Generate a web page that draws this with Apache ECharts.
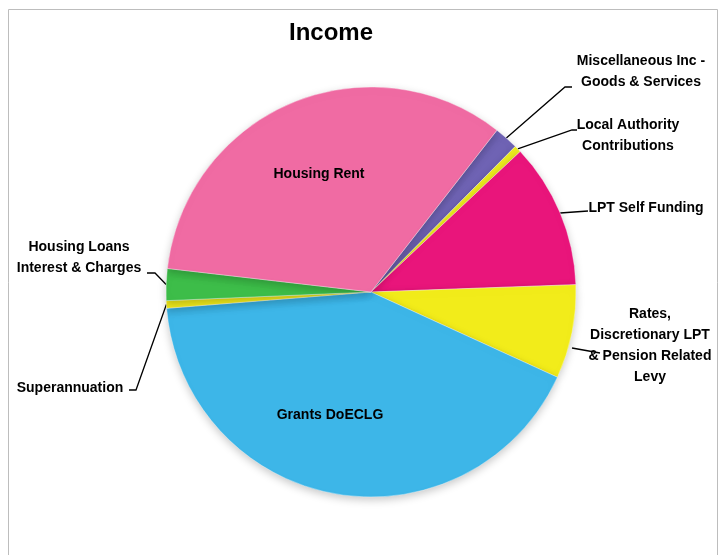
<!DOCTYPE html>
<html>
<head>
<meta charset="utf-8">
<script src="https://cdn.jsdelivr.net/npm/echarts@6/dist/echarts.min.js"></script>
<style>
html,body{margin:0;padding:0;background:#fff;}
#chart{width:724px;height:555px;}
</style>
</head>
<body>
<div id="chart"></div>
<script>
const categories = [
  'Miscellaneous Inc -\nGoods & Services',
  'Local Authority\nContributions',
  'LPT Self Funding',
  'Rates,\nDiscretionary LPT\n& Pension Related\nLevy',
  'Grants DoECLG',
  'Superannuation',
  'Housing Loans\nInterest & Charges',
  'Housing Rent'
];
const values = [1.9, 0.55, 11.45, 7.4, 41.9, 0.6, 2.5, 33.7];
const colors = ['#6f63b4', '#eceb1e', '#e9157b', '#f2ec1a', '#3db6e8', '#f0ea1c', '#3dbd49', '#f06ba3'];
const insideLabels = ['Grants DoECLG', 'Housing Rent'];

// label layout (positions of label text and leader-line points)
const labelPlace = [
  {x: 641, y: 72, start: null, bends: [[565, 87], [572, 87]]},
  {x: 628, y: 136, start: null, bends: [[572, 130], [577, 130]]},
  {x: 646, y: 208, start: null, bends: [[588, 211]]},
  {x: 650, y: 346, start: [572, 348], bends: [[600, 353]]},
  {x: 330, y: 415, start: null, bends: null},
  {x: 70, y: 388, start: null, bends: [[136, 390], [129, 390]]},
  {x: 79, y: 258, start: null, bends: [[155, 273], [147, 273]]},
  {x: 319, y: 174, start: null, bends: null}
];

const chart = echarts.init(document.getElementById('chart'));
const data = categories.map((c, i) => {
  const inside = insideLabels.indexOf(c) >= 0;
  return {
    name: c,
    value: values[i],
    itemStyle: {color: colors[i]},
    label: {position: inside ? 'inside' : 'outside'},
    labelLine: {show: !inside}
  };
});

chart.setOption({
  animation: false,
  title: {
    text: 'Income',
    left: 326,
    top: 16,
    textAlign: 'center',
    textStyle: {fontFamily: 'Liberation Sans', fontWeight: 'bold', fontSize: 24, color: '#000'}
  },
  graphic: [{
    type: 'rect',
    shape: {x: 8.5, y: 9.5, width: 709, height: 600},
    style: {fill: 'none', stroke: '#bdbdbd', lineWidth: 1},
    silent: true,
    z: -10
  }],
  series: [{
    type: 'pie',
    center: [371, 292],
    radius: 205,
    startAngle: 52.1,
    clockwise: true,
    avoidLabelOverlap: false,
    data: data,
    itemStyle: {
      borderColor: 'rgba(255,255,255,0.35)',
      borderWidth: 1,
      shadowBlur: 8,
      shadowColor: 'rgba(0,0,0,0.22)',
      shadowOffsetY: 3
    },
    label: {
      show: true,
      formatter: '{b}',
      fontFamily: 'Liberation Sans',
      fontWeight: 'bold',
      fontSize: 14,
      lineHeight: 21,
      color: '#000',
      align: 'center'
    },
    labelLine: {
      show: true,
      smooth: false,
      lineStyle: {color: '#000', width: 1.3}
    },
    emphasis: {disabled: true},
    labelLayout: function (params) {
      const p = labelPlace[params.dataIndex];
      const out = {x: p.x, y: p.y, align: 'center', verticalAlign: 'middle'};
      if (p.bends && params.labelLinePoints) {
        const s = p.start || params.labelLinePoints[0];
        out.labelLinePoints = [s].concat(p.bends);
      }
      return out;
    }
  }]
});
</script>
</body>
</html>
